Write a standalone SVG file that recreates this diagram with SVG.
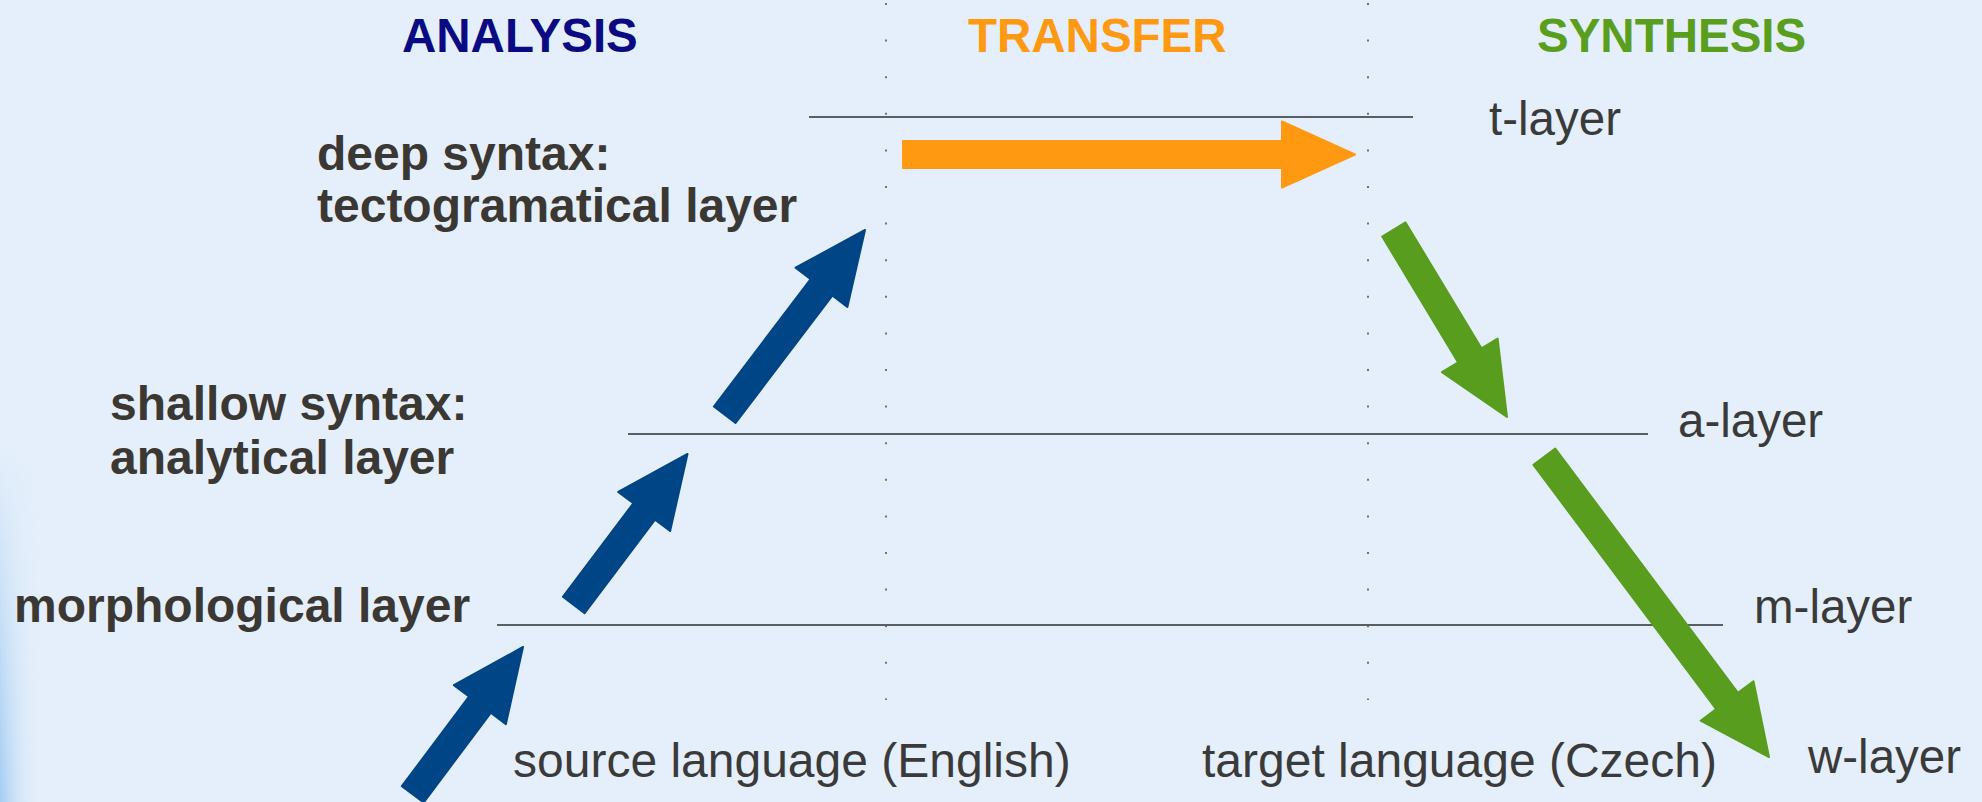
<svg xmlns="http://www.w3.org/2000/svg" width="1982" height="802" viewBox="0 0 1982 802">
<defs>
<linearGradient id="edge" x1="0" y1="0" x2="1" y2="0">
<stop offset="0" stop-color="#9cc8f0" stop-opacity="0.9"/>
<stop offset="1" stop-color="#e3effb" stop-opacity="0"/>
</linearGradient>
<linearGradient id="edgeV" x1="0" y1="0" x2="0" y2="1">
<stop offset="0" stop-color="#fff" stop-opacity="0"/>
<stop offset="1" stop-color="#fff" stop-opacity="1"/>
</linearGradient>
<mask id="edgeMask"><rect x="0" y="450" width="40" height="352" fill="url(#edgeV)"/></mask>
</defs>
<style>
.bg{fill:#e4effb}
.hline{stroke:#5a5f66;stroke-width:2;fill:none}
.vdot{stroke:#4a4a4a;stroke-width:1.5;stroke-dasharray:2 34.6;fill:none}
.title{font-family:"Liberation Sans",Arial,sans-serif;font-weight:bold;font-size:47.5px}
.left{font-family:"Liberation Sans",Arial,sans-serif;font-weight:bold;font-size:48px;fill:#3b3733}
.right{font-family:"Liberation Sans",Arial,sans-serif;font-size:47.5px;fill:#3a3a3a}
.lang{font-family:"Liberation Sans",Arial,sans-serif;font-size:48px;fill:#3a3a3a}
.blue{fill:#004586;stroke:#004586;stroke-width:2;stroke-linejoin:round}
.orange{fill:#ff9912;stroke:#ff9912;stroke-width:2;stroke-linejoin:round}
.green{fill:#589d1e;stroke:#589d1e;stroke-width:2;stroke-linejoin:round}
</style>
<rect class="bg" x="0" y="0" width="1982" height="802"/>
<rect x="0" y="450" width="40" height="352" fill="url(#edge)" mask="url(#edgeMask)"/>

<g id="guides">
<line class="vdot" x1="886" y1="3" x2="886" y2="700"/>
<line class="vdot" x1="1368" y1="3" x2="1368" y2="700"/>
<line id="t-line" class="hline" x1="809" y1="117" x2="1413" y2="117"/>
<line id="a-line" class="hline" x1="628" y1="434" x2="1648" y2="434"/>
<line id="m-line" class="hline" x1="497" y1="625" x2="1723" y2="625"/>
</g>

<g id="titles">
<text id="analysis" class="title" x="402" y="52" fill="#0a0a82">ANALYSIS</text>
<text id="transfer" class="title" x="968" y="52" fill="#ff9912">TRANSFER</text>
<text id="synthesis" class="title" x="1537" y="52" fill="#5a9e1e">SYNTHESIS</text>
</g>

<g id="node-deep">
<text class="left" x="317" y="170">deep syntax:</text>
<text class="left" x="317" y="222">tectogramatical layer</text>
</g>
<g id="node-shallow">
<text class="left" x="110" y="420">shallow syntax:</text>
<text class="left" x="110" y="474">analytical layer</text>
</g>
<g id="node-morph">
<text class="left" x="14" y="622">morphological layer</text>
</g>
<g id="node-source">
<text class="lang" x="513" y="777">source language (English)</text>
</g>
<g id="node-target">
<text class="lang" x="1202" y="777">target language (Czech)</text>
</g>
<g id="node-t"><text class="right" x="1489" y="135">t-layer</text></g>
<g id="node-a"><text class="right" x="1678" y="437">a-layer</text></g>
<g id="node-m"><text class="right" x="1754" y="623">m-layer</text></g>
<g id="node-w"><text class="right" x="1808" y="773">w-layer</text></g>

<g id="connectors">
<polygon class="blue" transform="translate(523,647) rotate(-53.2)" points="0,0 -72,-32.5 -72,-13.6 -184,-13.6 -184,13.6 -72,13.6 -72,32.5"/>
<polygon class="blue" transform="translate(687.5,454) rotate(-53)" points="0,0 -72,-32.5 -72,-13.6 -189,-13.6 -189,13.6 -72,13.6 -72,32.5"/>
<polygon class="blue" transform="translate(865,230) rotate(-52.8)" points="0,0 -72,-32.5 -72,-13.6 -232,-13.6 -232,13.6 -72,13.6 -72,32.5"/>
<polygon class="orange" transform="translate(1355,154.5) rotate(0)" points="0,0 -73,-33 -73,-13.6 -452,-13.6 -452,13.6 -73,13.6 -73,33"/>
<polygon class="green" transform="translate(1507,417) rotate(58.9)" points="0,0 -72,-32.5 -72,-13.6 -219,-13.6 -219,13.6 -72,13.6 -72,32.5"/>
<polygon class="green" transform="translate(1769,757) rotate(53.2)" points="0,0 -70,-33 -70,-13.6 -375,-13.6 -375,13.6 -70,13.6 -70,33"/>
</g>
</svg>
